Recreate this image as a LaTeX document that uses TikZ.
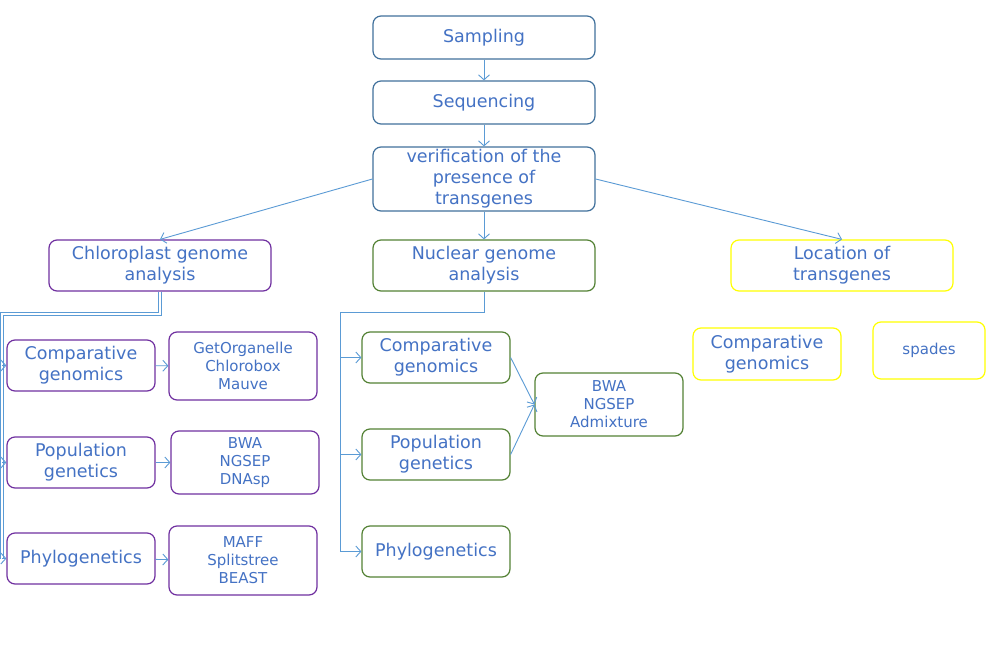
\documentclass[tikz,border=0pt]{standalone}
\usepackage{fontspec}
\setmainfont{DejaVu Sans}
\usetikzlibrary{arrows.meta}
\definecolor{txt}{HTML}{4472C4}
\definecolor{bluebd}{HTML}{41719C}
\definecolor{purp}{HTML}{7030A0}
\definecolor{grn}{HTML}{548235}
\definecolor{yel}{HTML}{FFFF00}
\definecolor{conn}{HTML}{5B9BD5}
\tikzset{
  box/.style={draw, rounded corners=8pt, line width=1.2pt, inner sep=0pt, align=center,
    text=txt, font=\fontsize{17.5}{21}\selectfont},
  small/.style={font=\fontsize{15}{18}\selectfont},
  bbox/.style={box, draw=bluebd},
  pbox/.style={box, draw=purp},
  gbox/.style={box, draw=grn},
  ybox/.style={box, draw=yel},
  arr/.style={draw=conn, line width=0.9pt, -{Straight Barb[length=5pt,width=11pt]}},
  ln/.style={draw=conn, line width=0.9pt},
  dbl/.style={draw=conn, line width=0.8pt, double=white, double distance=1.6pt},
}
\begin{document}
\begin{tikzpicture}[x=1pt,y=-1pt]
\useasboundingbox[fill=white] (0,0) rectangle (992,650);
% top chain
\node[bbox, minimum width=222pt, minimum height=43pt] (samp) at (484,37.5) {Sampling};
\node[bbox, minimum width=222pt, minimum height=43pt] (seq) at (484,102.5) {Sequencing};
\node[bbox, minimum width=222pt, minimum height=64pt] (ver) at (484,179) {verification of the\\presence of\\transgenes};
% second level
\node[pbox, minimum width=222pt, minimum height=51pt] (chl) at (160,265.5) {Chloroplast genome\\analysis};
\node[gbox, minimum width=222pt, minimum height=51pt] (nuc) at (484,265.5) {Nuclear genome\\analysis};
\node[ybox, minimum width=222pt, minimum height=51pt] (loc) at (842,265.5) {Location of\\transgenes};
% chloroplast children
\node[pbox, minimum width=148pt, minimum height=51pt] (ccg) at (81,365.5) {Comparative\\genomics};
\node[pbox, minimum width=148pt, minimum height=51pt] (cpg) at (81,462.5) {Population\\genetics};
\node[pbox, minimum width=148pt, minimum height=51pt] (cph) at (81,558.5) {Phylogenetics};
\node[pbox, small, minimum width=148pt, minimum height=68pt] (ct1) at (243,366) {GetOrganelle\\Chlorobox\\Mauve};
\node[pbox, small, minimum width=148pt, minimum height=63pt] (ct2) at (245,462.5) {BWA\\NGSEP\\DNAsp};
\node[pbox, small, minimum width=148pt, minimum height=69pt] (ct3) at (243,560.5) {MAFF\\Splitstree\\BEAST};
% nuclear children
\node[gbox, minimum width=148pt, minimum height=51pt] (ncg) at (436,357.5) {Comparative\\genomics};
\node[gbox, minimum width=148pt, minimum height=51pt] (npg) at (436,454.5) {Population\\genetics};
\node[gbox, minimum width=148pt, minimum height=51pt] (nph) at (436,551.5) {Phylogenetics};
\node[gbox, small, minimum width=148pt, minimum height=63pt] (nt) at (609,404.5) {BWA\\NGSEP\\Admixture};
% location children
\node[ybox, minimum width=148pt, minimum height=52pt] (lcg) at (767,354) {Comparative\\genomics};
\node[ybox, small, minimum width=112pt, minimum height=57pt] (lsp) at (929,350.5) {spades};
% bus coordinates
\coordinate (cbusA) at (160,314);
\coordinate (cbus) at (2,314);
\coordinate (cbusE) at (2,559);
\coordinate (nbusA) at (484,312);
\coordinate (nbus) at (340,312);
\coordinate (nbusE) at (340,551.5);
% connectors
\draw[arr] (samp) -- (seq);
\draw[arr] (seq) -- (ver);
\draw[arr] (ver) -- (nuc);
\draw[arr] (ver.west) -- (chl.north);
\draw[arr] (ver.east) -- (loc.north);
\draw[dbl] (chl.south) -- (cbusA) -- (cbus) -- (cbusE);
\draw[arr] (cbus |- ccg.west) -- (ccg.west);
\draw[arr] (cbus |- cpg.west) -- (cpg.west);
\draw[arr] (cbus |- cph.west) -- (cph.west);
\draw[ln] (nuc.south) -- (nbusA) -- (nbus) -- (nbusE);
\draw[arr] (nbus |- ncg.west) -- (ncg.west);
\draw[arr] (nbus |- npg.west) -- (npg.west);
\draw[arr] (nbusE) -- (nph.west);
\draw[arr] (ccg) -- (ct1);
\draw[arr] (cpg) -- (ct2);
\draw[arr] (cph) -- (ct3);
\draw[arr] (ncg.east) -- (nt.west);
\draw[arr] (npg.east) -- (nt.west);
\end{tikzpicture}
\end{document}
